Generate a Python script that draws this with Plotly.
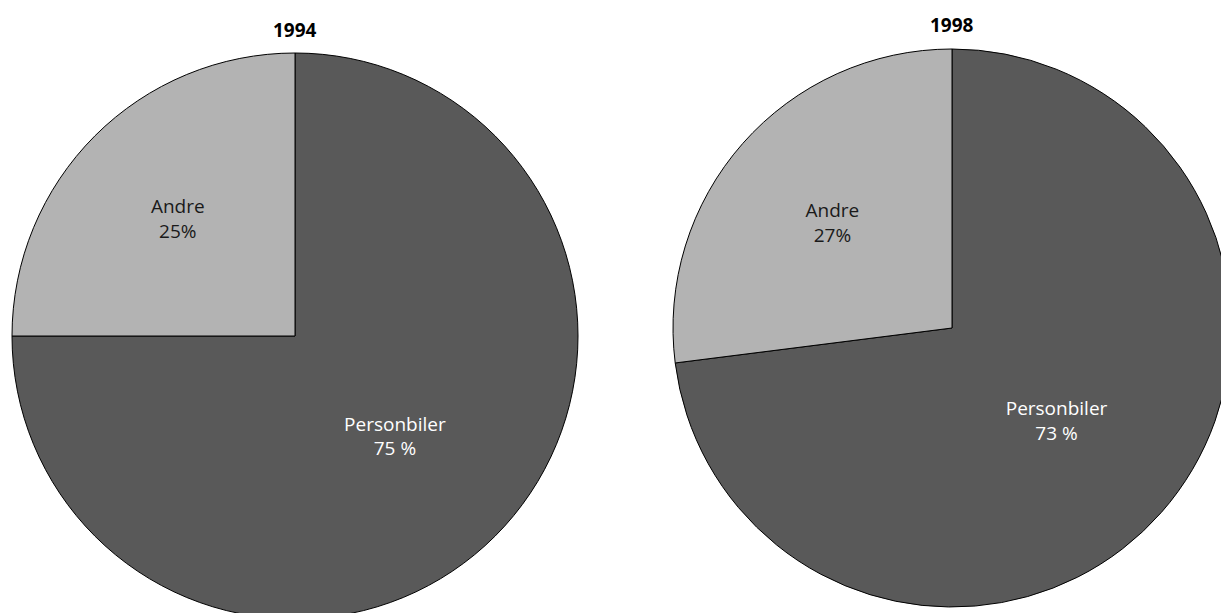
import plotly.graph_objects as go

# Share of road traffic, 1994 vs 1998
categories = ["Personbiler", "Andre"]
values_1994 = [75, 25]
values_1998 = [73, 27]
labels_1994 = ["Personbiler<br>75 %", "Andre<br>25%"]
labels_1998 = ["Personbiler<br>73 %", "Andre<br>27%"]
years = ["1994", "1998"]

colors = ["#595959", "#b3b3b3"]
text_colors = ["#ffffff", "#1a1a1a"]

W, H = 1240, 630


def px_domain(x0, x1, y0, y1):
    # pixel box (top-left origin) -> paper domain
    return dict(x=[x0 / W, x1 / W], y=[1 - y1 / H, 1 - y0 / H])


fig = go.Figure()
for vals, txt, dom in [
    (values_1994, labels_1994, px_domain(12, 578, 53, 619)),
    (values_1998, labels_1998, px_domain(673, 1231, 49, 607)),
]:
    fig.add_trace(go.Pie(
        labels=categories,
        values=vals,
        text=txt,
        textinfo="text",
        textposition="inside",
        insidetextorientation="horizontal",
        textfont=dict(family="Open Sans", size=19, color=text_colors),
        sort=False,
        direction="clockwise",
        rotation=0,
        marker=dict(colors=colors, line=dict(color="#000000", width=1)),
        domain=dom,
        showlegend=False,
        hoverinfo="label+percent",
    ))

title_pos = {"1994": (295, 30), "1998": (952, 25)}
for year in years:
    x, y = title_pos[year]
    fig.add_annotation(
        text=f"<b>{year}</b>", x=x / W, y=1 - y / H,
        xref="paper", yref="paper", showarrow=False,
        xanchor="center", yanchor="middle",
        font=dict(family="Open Sans", size=19, color="#000000"),
    )

fig.update_layout(
    width=W, height=H,
    margin=dict(l=0, r=0, t=0, b=0),
    paper_bgcolor="#ffffff",
    plot_bgcolor="#ffffff",
)

fig.write_html(
    "out.html",
    post_script="document.documentElement.style.overflow='hidden';"
                "document.body.style.overflow='hidden';"
                "document.body.style.margin='0';",
)
